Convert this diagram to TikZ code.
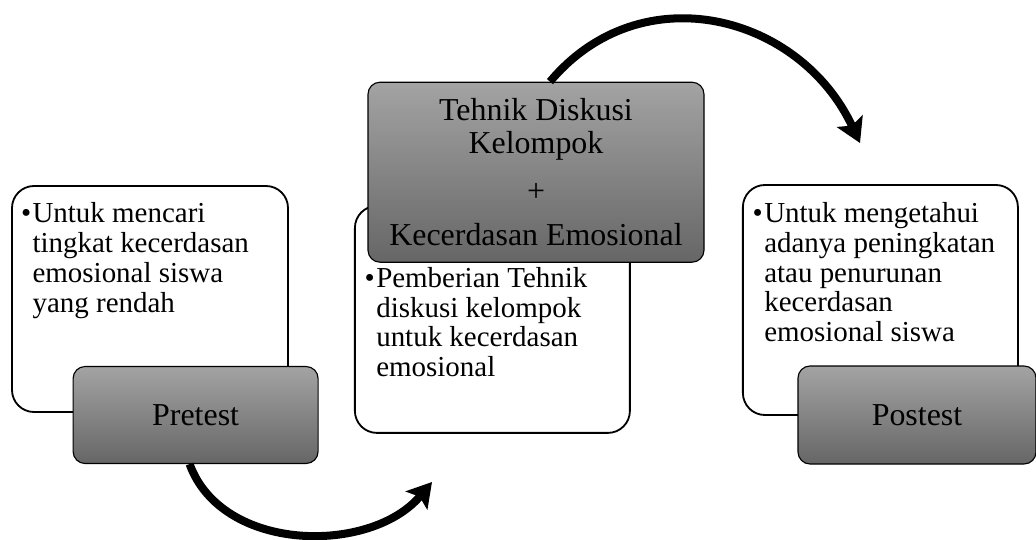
\documentclass[tikz,border=0pt]{standalone}
\usepackage{fontspec}
\setmainfont{Liberation Serif}
\usetikzlibrary{arrows.meta, positioning}

\begin{document}
\begin{tikzpicture}[
						wbox/.style = {draw, rectangle, fill=white, line width=1.3pt, rounded corners=5.5mm},
						gbox/.style = {draw, rectangle, line width=0.8pt, rounded corners=3mm, top color=black!36, bottom color=black!60, align=center, font=\fontsize{22.7}{23.4}\selectfont},
						note/.style = {inner sep=0pt, align=left, font=\fontsize{20.6}{21.2}\selectfont},
						bigarrow/.style = {line width=5.7pt, -{Stealth[length=6mm, width=7mm, inset=1.2mm]}}
					]
\useasboundingbox (0,0) rectangle (25.9,13.475);

\node[wbox] (w1) [minimum width=6.9cm, minimum height=5.65cm] at (3.75,6.0) {};
\node[note] (n1) [below right=0.43cm and 0.53cm of w1.north west] {\llap{\textbullet\hspace{1pt}}Untuk mencari\\tingkat kecerdasan\\emosional siswa\\yang rendah};
\node[gbox] (pre) [minimum width=6.125cm, minimum height=2.425cm] at (4.89,3.1) {Pretest};

\node[wbox] (w2) [minimum width=6.875cm, minimum height=5.675cm] at (12.31,5.49) {};
\node[note] (n2) [below right=1.55cm and 0.55cm of w2.north west] {\llap{\textbullet\hspace{1pt}}Pemberian Tehnik\\diskusi kelompok\\untuk kecerdasan\\emosional};
\node[gbox] (mid) [minimum width=8.4cm, minimum height=4.5cm] at (13.4,9.17) {Tehnik Diskusi\\Kelompok\\[10.7pt]+\\[8.5pt]Kecerdasan Emosional};

\node[wbox] (w3) [minimum width=6.875cm, minimum height=5.75cm] at (22.01,5.975) {};
\node[note] (n3) [below right=0.45cm and 0.55cm of w3.north west] {\llap{\textbullet\hspace{1pt}}Untuk mengetahui\\adanya peningkatan\\atau penurunan\\kecerdasan\\emosional siswa};
\node[gbox] (post) [minimum width=5.95cm, minimum height=2.45cm] at (22.925,3.1) {Postest};

\coordinate (t1) at (10.8,1.425);
\coordinate (t2) at (21.5,9.9);

\draw[bigarrow] ([xshift=-1.5mm]pre.south) to [out=-70, in=-130] (t1);
\draw[bigarrow] ([xshift=3.5mm]mid.north) to [out=50, in=115, looseness=1.15] (t2);
\end{tikzpicture}
\end{document}
